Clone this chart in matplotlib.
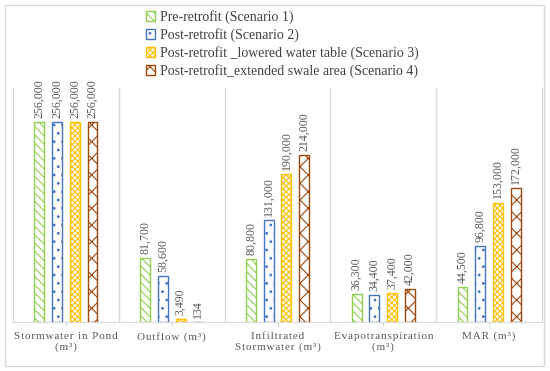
import matplotlib
matplotlib.use("Agg")
import matplotlib.pyplot as plt
import matplotlib.patches as mpatches
import numpy as np

# ── Data ─────────────────────────────────────────────────────────────────────
categories = ["Stormwater in Pond\n(m³)", "Outflow (m³)", "Infiltrated\nStormwater (m³)",
              "Evapotranspiration\n(m³)", "MAR (m³)"]
scenarios = ["Pre-retrofit (Scenario 1)",
             "Post-retrofit (Scenario 2)",
             "Post-retrofit _lowered water table (Scenario 3)",
             "Post-retrofit_extended swale area (Scenario 4)"]
scenario1 = [256000, 81700, 80800, 36300, 44500]
scenario2 = [256000, 58600, 131000, 34400, 96800]
scenario3 = [256000, 3490, 190000, 37400, 153000]
scenario4 = [256000, 134, 214000, 42000, 172000]

# ── Style ────────────────────────────────────────────────────────────────────
plt.rcParams["font.family"] = ["Liberation Serif", "DejaVu Serif"]
plt.rcParams["hatch.linewidth"] = 0.8
COLORS  = ["#92d050", "#4472c4", "#ffc000", "#9e480e"]
HATCHES = ["\\\\\\\\", "..", "xxxxxx", "xx"]
GRID    = "#d9d9d9"
TEXT    = "#595959"

def spaced(s):
    # mimic the wide letter spacing of the category labels
    return "\n".join("\u200a".join(line) for line in s.split("\n"))

fig = plt.figure(figsize=(5.5, 3.71), dpi=100)
fig.patches.append(mpatches.Rectangle((5 / 550, 5 / 371), 539 / 550, 361 / 371,
                                      transform=fig.transFigure, fill=False,
                                      edgecolor=GRID, linewidth=1.0))
ax = fig.add_axes([13 / 550, 49 / 371, 529 / 550, 234 / 371])

x = np.arange(len(categories))
width = 0.093
step = 0.168
series = [scenario1, scenario2, scenario3, scenario4]
handles = []
for i, vals in enumerate(series):
    pos = x + (i - 1.5) * step
    bars = ax.bar(pos, vals, width, facecolor="white", edgecolor=COLORS[i],
                  hatch=HATCHES[i], linewidth=1.0, label=scenarios[i])
    handles.append(bars)
    for px, v in zip(pos, vals):
        ax.annotate(f"{v:,}", (px, v), xytext=(0, 3), textcoords="offset points",
                    rotation=90, ha="center", va="bottom", fontsize=8.6, color=TEXT)

ax.set_xlim(-0.5, 4.5)
ax.set_ylim(0, 300000)
ax.set_yticks([])
for b in np.arange(0.5, 4.5, 1):
    ax.axvline(b, color=GRID, linewidth=1.0, zorder=0)
for side in ["left", "right", "bottom"]:
    ax.spines[side].set_color(GRID)
ax.spines["top"].set_visible(False)
ax.set_xticks(x)
ax.set_xticklabels([spaced(c) for c in categories], fontsize=8, color=TEXT,
                   multialignment="center")
ax.tick_params(axis="x", length=3, color=GRID, pad=4)

leg = fig.legend(handles=handles, loc="upper left",
                 bbox_to_anchor=(136 / 550, 1), frameon=False,
                 fontsize=10, handlelength=0.7, handleheight=0.7,
                 handletextpad=0.3, labelspacing=0.3, borderpad=0.2)
for t in leg.get_texts():
    t.set_color("#404040")

fig.savefig("out.png", dpi=100)
